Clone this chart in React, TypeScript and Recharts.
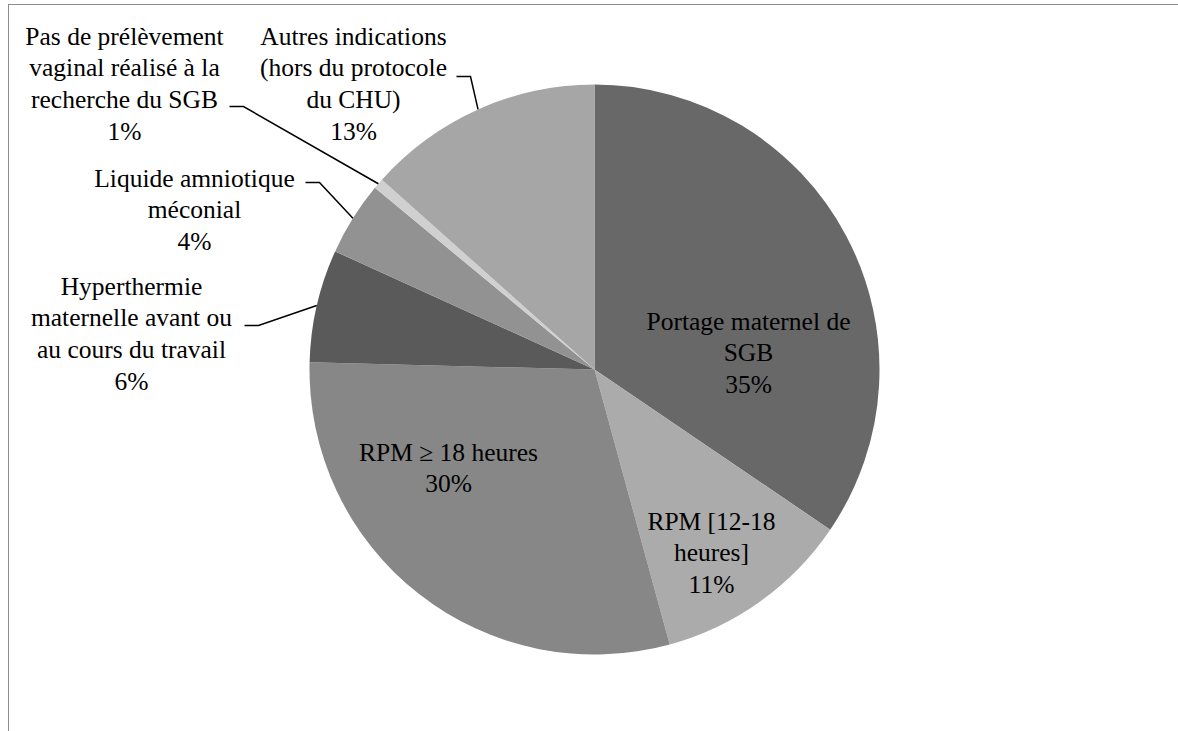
import { Cell, Pie, PieChart } from "recharts";

const categories = [
  "Portage maternel de SGB",
  "RPM [12-18 heures]",
  "RPM ≥ 18 heures",
  "Hyperthermie maternelle avant ou au cours du travail",
  "Liquide amniotique méconial",
  "Pas de prélèvement vaginal réalisé à la recherche du SGB",
  "Autres indications (hors du protocole du CHU)",
];

const shares = [34.5, 11.25, 29.65, 6.4, 4.2, 0.6, 13.4];

const percentLabels = ["35%", "11%", "30%", "6%", "4%", "1%", "13%"];

// category names as they wrap on the chart
const wrappedNames = [
  ["Portage maternel de", "SGB"],
  ["RPM [12-18", "heures]"],
  ["RPM ≥ 18 heures"],
  ["Hyperthermie", "maternelle avant ou", "au cours du travail"],
  ["Liquide amniotique", "méconial"],
  ["Pas de prélèvement", "vaginal réalisé à la", "recherche du SGB"],
  ["Autres indications", "(hors du protocole", "du CHU)"],
];

const colors = ["#686868", "#ababab", "#878787", "#5a5a5a", "#929292", "#d0d0d0", "#a6a6a6"];

// label placement relative to the pie centre; stub = start of the leader line
const labelLayout: { dx: number; dy: number; stub?: { dx: number; dy: number } }[] = [
  { dx: 154, dy: -40 },
  { dx: 117, dy: 160 },
  { dx: -146, dy: 91 },
  { dx: -463, dy: -75, stub: { dx: -350, dy: -44 } },
  { dx: -400, dy: -183, stub: { dx: -289, dy: -187 } },
  { dx: -470, dy: -325, stub: { dx: -365, dy: -263 } },
  { dx: -241, dy: -325, stub: { dx: -138, dy: -293 } },
];

const data = categories.map((name, i) => ({ name, value: shares[i] }));

const RAD = Math.PI / 180;
const LINE_H = 31.7;
const FONT = '"Liberation Serif", "Times New Roman", "DejaVu Serif", serif';

function SliceLabel(props: any) {
  const { cx, cy, midAngle, outerRadius, index } = props;
  const layout = labelLayout[index];
  const lines = [...wrappedNames[index], percentLabels[index]];
  const x = cx + layout.dx;
  const y = cy + layout.dy;

  let leader = null;
  if (layout.stub) {
    const sx = cx + layout.stub.dx;
    const sy = cy + layout.stub.dy;
    const ex = cx + outerRadius * Math.cos(-midAngle * RAD);
    const ey = cy + outerRadius * Math.sin(-midAngle * RAD);
    leader = (
      <polyline
        points={`${sx},${sy} ${sx + 14},${sy} ${ex},${ey}`}
        fill="none"
        stroke="#000"
        strokeWidth={1.5}
      />
    );
  }

  return (
    <g>
      {leader}
      <text
        x={x}
        y={y}
        textAnchor="middle"
        style={{ fontFamily: FONT, fontSize: 25.5, fill: "#000" }}
      >
        {lines.map((line, i) => (
          <tspan key={i} x={x} y={y + i * LINE_H}>
            {line}
          </tspan>
        ))}
      </text>
    </g>
  );
}

export default function App() {
  return (
    <div
      style={{
        position: "absolute",
        left: 8,
        top: 4,
        width: 1170,
        height: 727,
        boxSizing: "border-box",
        borderTop: "1.5px solid #8c8c8c",
        borderLeft: "1.5px solid #8c8c8c",
        background: "#fff",
        overflow: "hidden",
        fontFamily: FONT,
      }}
    >
      <PieChart
        width={1168}
        height={725}
        margin={{ top: 0, right: 0, bottom: 0, left: 0 }}
        style={{ fontFamily: FONT }}
      >
        <Pie
          data={data}
          dataKey="value"
          nameKey="name"
          cx={585.5}
          cy={364.5}
          outerRadius={285}
          startAngle={90}
          endAngle={-270}
          stroke="none"
          label={SliceLabel}
          labelLine={false}
          isAnimationActive={false}
        >
          {data.map((d, i) => (
            <Cell key={d.name} fill={colors[i]} />
          ))}
        </Pie>
      </PieChart>
    </div>
  );
}
